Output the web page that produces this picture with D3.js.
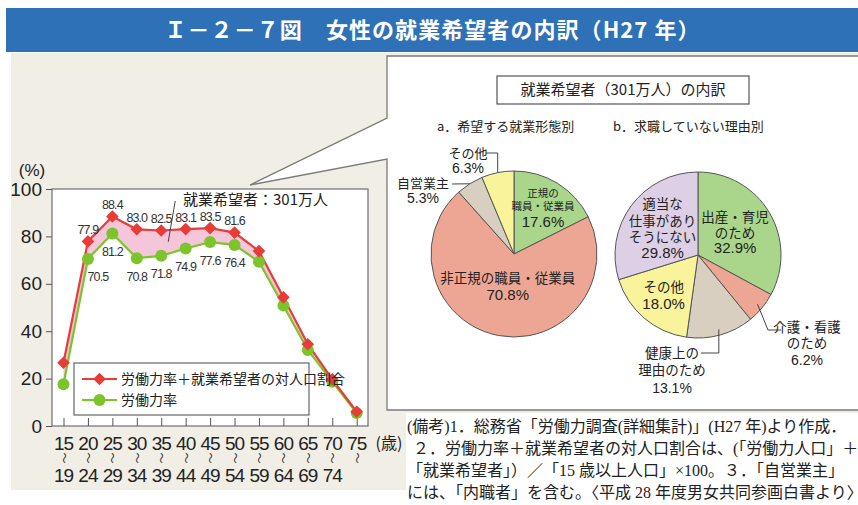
<!DOCTYPE html>
<html>
<head>
<meta charset="utf-8">
<script src="https://cdn.jsdelivr.net/npm/d3@7"></script>
<style>
  body { margin: 0; background: #fff; }
  svg { display: block; font-family: "Liberation Sans", "Noto Sans CJK JP", sans-serif; }
  .jp { font-family: "Noto Sans CJK JP", sans-serif; }
  .note { font-family: "Liberation Serif", "Noto Sans CJK JP", serif; }
</style>
</head>
<body>
<svg id="chart" width="858" height="505"></svg>
<script>
// age groups (start / end of each band)
const ageFrom = ["15", "20", "25", "30", "35", "40", "45", "50", "55", "60", "65", "70", "75"];
const ageTo = ["19", "24", "29", "34", "39", "44", "49", "54", "59", "64", "69", "74", ""];

// 労働力率＋就業希望者の対人口割合 (%)
const ratePlusSeekers = [26.7, 77.9, 88.4, 83.0, 82.5, 83.1, 83.5, 81.6, 73.8, 54.3, 34.5, 19.7, 6.0];
// 労働力率 (%)
const laborRate = [17.6, 70.5, 81.2, 70.8, 71.8, 74.9, 77.6, 76.4, 69.3, 50.8, 32.1, 18.7, 5.5];
// bands that carry a value label
const labelledAges = ["20", "25", "30", "35", "40", "45", "50"];

const yTicks = [0, 20, 40, 60, 80, 100];

// a. 希望する就業形態別
const formNames = ["正規の職員・従業員", "非正規の職員・従業員", "自営業主", "その他"];
const formShares = [17.6, 70.8, 5.3, 6.3];

// b. 求職していない理由別
const reasonNames = ["出産・育児のため", "介護・看護のため", "健康上の理由のため", "その他", "適当な仕事がありそうにない"];
const reasonShares = [32.9, 6.2, 13.1, 18.0, 29.8];

const notes = [
  "(備考)1．総務省「労働力調査(詳細集計)」(H27 年)より作成．",
  "２．労働力率＋就業希望者の対人口割合は、(「労働力人口」＋",
  "「就業希望者」）／「15 歳以上人口」×100。３．「自営業主」",
  "には、「内職者」を含む。〈平成 28 年度男女共同参画白書より〉"
];

const svg = d3.select("#chart");

// ---- frame ----
svg.append("rect").attr("x", 6).attr("y", 8).attr("width", 852).attr("height", 44)
  .attr("fill", "#2e71b6");
svg.append("text").attr("class", "jp")
  .attr("x", 432).attr("y", 30).attr("dy", "0.36em")
  .attr("text-anchor", "middle").attr("fill", "#fff")
  .attr("font-size", 22).attr("font-weight", "bold")
  .attr("textLength", 535).attr("lengthAdjust", "spacing")
  .text("Ｉ－２－７図　女性の就業希望者の内訳（H27 年）");

svg.append("rect").attr("x", 11).attr("y", 53).attr("width", 847).attr("height", 437)
  .attr("fill", "#f1eee6");

// ---- line chart ----
const x = d3.scalePoint().domain(ageFrom).range([63.5, 356.7]);
const y = d3.scaleLinear().domain([0, 100]).range([426, 189]);
const plot = { left: 52, right: 368, top: 189, bottom: 426 };

svg.append("rect")
  .attr("x", plot.left).attr("y", plot.top)
  .attr("width", plot.right - plot.left).attr("height", plot.bottom - plot.top)
  .attr("fill", "#fff").attr("stroke", "#6f6f6f").attr("stroke-width", 1.2);

const yAxis = svg.append("g")
  .attr("transform", `translate(${plot.left},0)`)
  .call(d3.axisLeft(y).tickValues(yTicks).tickSize(6).tickPadding(4));
yAxis.select(".domain").remove();
yAxis.selectAll("line").attr("stroke", "#555");
yAxis.selectAll("text").attr("font-size", 19).attr("fill", "#222")
  .attr("font-family", "Liberation Sans, sans-serif");

const xAxis = svg.append("g")
  .attr("transform", `translate(0,${plot.bottom})`)
  .call(d3.axisBottom(x).tickSize(-8).tickFormat(""));
xAxis.select(".domain").remove();
xAxis.selectAll("line").attr("stroke", "#555");

const xLab = svg.append("g").attr("font-size", 19).attr("fill", "#222")
  .attr("text-anchor", "middle");
ageFrom.forEach(function(a, i) {
  xLab.append("text").attr("x", x(a)).attr("y", 443).attr("dy", "0.36em")
    .attr("letter-spacing", -1).text(a);
  xLab.append("text")
    .attr("transform", `translate(${x(a)},458) rotate(90)`)
    .attr("dy", "0.36em").attr("font-size", 11).attr("class", "jp")
    .text("～");
  if (ageTo[i]) {
    xLab.append("text").attr("x", x(a)).attr("y", 475).attr("dy", "0.36em")
      .attr("letter-spacing", -1).text(ageTo[i]);
  }
});
svg.append("text").attr("class", "jp").attr("x", 389).attr("y", 443).attr("dy", "0.36em")
  .attr("text-anchor", "middle").attr("font-size", 16).attr("fill", "#222").text("(歳)");
svg.append("text").attr("x", 32).attr("y", 170).attr("dy", "0.36em")
  .attr("text-anchor", "middle").attr("font-size", 17).attr("fill", "#222").text("(%)");

const rows = ageFrom.map(function(a, i) {
  return { age: a, hi: ratePlusSeekers[i], lo: laborRate[i] };
});

svg.append("path").datum(rows)
  .attr("fill", "#f5c5da")
  .attr("d", d3.area()
    .x(function(d) { return x(d.age); })
    .y0(function(d) { return y(d.lo); })
    .y1(function(d) { return y(d.hi); }));

const green = "#7cc42c", red = "#e83c38";

svg.append("path").datum(rows)
  .attr("fill", "none").attr("stroke", green).attr("stroke-width", 2.2)
  .attr("d", d3.line().x(function(d) { return x(d.age); }).y(function(d) { return y(d.lo); }));
svg.append("path").datum(rows)
  .attr("fill", "none").attr("stroke", red).attr("stroke-width", 2.2)
  .attr("d", d3.line().x(function(d) { return x(d.age); }).y(function(d) { return y(d.hi); }));

svg.append("g").selectAll("circle").data(rows).enter().append("circle")
  .attr("cx", function(d) { return x(d.age); })
  .attr("cy", function(d) { return y(d.lo); })
  .attr("r", 6).attr("fill", green);

const diamond = d3.symbol().type(d3.symbolSquare).size(80);
svg.append("g").selectAll("path").data(rows).enter().append("path")
  .attr("d", diamond)
  .attr("transform", function(d) { return `translate(${x(d.age)},${y(d.hi)}) rotate(45)`; })
  .attr("fill", red);

// value labels, narrow so neighbours don't run together
const valLab = svg.append("g").attr("font-size", 12.5).attr("fill", "#333")
  .attr("text-anchor", "middle").attr("letter-spacing", -0.9);
rows.filter(function(d) { return labelledAges.includes(d.age); }).forEach(function(d, i) {
  valLab.append("text").attr("x", x(d.age)).attr("y", y(d.hi) - 12).attr("dy", "0.36em")
    .text(d.hi.toFixed(1));
  valLab.append("text").attr("x", x(d.age) + (i === 0 ? 10 : 0)).attr("y", y(d.lo) + 18)
    .attr("dy", "0.36em").text(d.lo.toFixed(1));
});

// annotation for the shaded band
const annX = x("35") + 7;
const annY = (y(82.7) + y(72.7)) / 2;
svg.append("line").attr("x1", annX).attr("y1", annY).attr("x2", annX + 7).attr("y2", 201)
  .attr("stroke", "#444").attr("stroke-width", 1);
svg.append("text").attr("class", "jp").attr("x", 183).attr("y", 200).attr("dy", "0.36em")
  .attr("font-size", 15).attr("fill", "#222").text("就業希望者：301万人");

// legend
const leg = svg.append("g");
leg.append("rect").attr("x", 74).attr("y", 363).attr("width", 235).attr("height", 52)
  .attr("fill", "#fff").attr("stroke", "#666").attr("stroke-width", 1.2);
[[red, "労働力率＋就業希望者の対人口割合", 379, "d"], [green, "労働力率", 400, "c"]].forEach(function(e) {
  leg.append("line").attr("x1", 82).attr("x2", 117).attr("y1", e[2]).attr("y2", e[2])
    .attr("stroke", e[0]).attr("stroke-width", 2.2);
  if (e[3] === "d") {
    leg.append("path").attr("d", diamond)
      .attr("transform", `translate(99.5,${e[2]}) rotate(45)`).attr("fill", e[0]);
  } else {
    leg.append("circle").attr("cx", 99.5).attr("cy", e[2]).attr("r", 6).attr("fill", e[0]);
  }
  leg.append("text").attr("class", "jp").attr("x", 121).attr("y", e[2]).attr("dy", "0.36em")
    .attr("font-size", 14).attr("fill", "#222").text(e[1]);
});

// ---- pie panel with callout ----
svg.append("path")
  .attr("d", "M870,56 L387,56 L387,118 L250,185 L387,159 L387,410 L870,410")
  .attr("fill", "#fff").attr("stroke", "#7a7a7a").attr("stroke-width", 1.3);

svg.append("rect").attr("x", 406).attr("y", 413).attr("width", 452).attr("height", 92)
  .attr("fill", "#fff");

svg.append("rect").attr("x", 497).attr("y", 76).attr("width", 252).attr("height", 28)
  .attr("fill", "#fff").attr("stroke", "#555").attr("stroke-width", 1.2);
svg.append("text").attr("class", "jp").attr("x", 623).attr("y", 90).attr("dy", "0.36em")
  .attr("text-anchor", "middle").attr("font-size", 15).attr("fill", "#222")
  .text("就業希望者（301万人）の内訳");
svg.append("text").attr("class", "jp").attr("x", 437).attr("y", 126).attr("dy", "0.36em")
  .attr("font-size", 13).attr("fill", "#222").text("a．希望する就業形態別");
svg.append("text").attr("class", "jp").attr("x", 613).attr("y", 126).attr("dy", "0.36em")
  .attr("font-size", 13).attr("fill", "#222").text("b．求職していない理由別");

const R = 83;
const arc = d3.arc().innerRadius(0).outerRadius(R);
const pie = d3.pie().sort(null).value(function(d) { return d.v; });

function midAngle(d) { return (d.startAngle + d.endAngle) / 2; }
function polar(a, r) { return [Math.sin(a) * r, -Math.cos(a) * r]; }

function drawPie(cx, cy, names, shares, colors, layout) {
  const g = svg.append("g").attr("transform", `translate(${cx},${cy})`);
  const arcs = pie(names.map(function(n, i) { return { n: n, v: shares[i] }; }));
  g.selectAll("path").data(arcs).enter().append("path")
    .attr("d", arc)
    .attr("fill", function(d, i) { return colors[i]; })
    .attr("stroke", "#555").attr("stroke-width", 1);

  arcs.forEach(function(d, i) {
    const L = layout[i];
    const a = midAngle(d);
    let c;
    if (L.k) {
      c = polar(a, R * L.k);
    } else {
      c = L.at;
      const p = polar(a, R * L.edge);
      const pts = [p].concat(L.leader(p));
      g.append("path").attr("d", d3.line()(pts))
        .attr("fill", "none").attr("stroke", "#444").attr("stroke-width", 1);
    }
    const t = g.append("text").attr("class", "jp").attr("text-anchor", "middle").attr("fill", "#222");
    L.lines.forEach(function(ln) {
      t.append("tspan").attr("x", c[0]).attr("y", c[1] + ln[2]).attr("dy", "0.36em")
        .attr("font-size", ln[1]).text(ln[0]);
    });
    t.append("tspan").attr("x", c[0]).attr("y", c[1] + L.pctY).attr("dy", "0.36em")
      .attr("font-size", L.pctSize).attr("font-family", "Liberation Sans, sans-serif")
      .text(d.data.v.toFixed(1) + "%");
  });
}

const cGreen = "#a9d68a", cSalmon = "#eea694", cBeige = "#d9cfc0", cYellow = "#f9f39b", cLav = "#ddd0e6";

drawPie(514, 254, formNames, formShares, [cGreen, cSalmon, cBeige, cYellow], [
  { k: 0.665, lines: [["正規の", 10.5, -14], ["職員・従業員", 10.5, -1]], pctY: 15, pctSize: 15 },
  { k: 0.4, lines: [["非正規の職員・従業員", 13.5, -8]], pctY: 8, pctSize: 15 },
  { at: [-91, -64], edge: 1, leader: function(p) { return [[-62, -70]]; },
    lines: [["自営業主", 13, -7]], pctY: 8, pctSize: 14 },
  { at: [-46, -94], edge: 1, leader: function(p) { return [[p[0], -101], [-28, -101]]; },
    lines: [["その他", 13, -7]], pctY: 8, pctSize: 14 }
]);

drawPie(698, 255, reasonNames, reasonShares, [cGreen, cSalmon, cBeige, cYellow, cLav], [
  { k: 0.52, lines: [["出産・育児", 13.5, -16], ["のため", 13.5, 0]], pctY: 15, pctSize: 15 },
  { at: [109, 88], edge: 0.93, leader: function(p) { return [[70, 75], [83, 75]]; },
    lines: [["介護・看護", 13.5, -16], ["のため", 13.5, 0]], pctY: 17, pctSize: 14 },
  { at: [-26, 115], edge: 0.93, leader: function(p) { return [[p[0], 98], [3, 98]]; },
    lines: [["健康上の", 13.5, -17], ["理由のため", 13.5, 0]], pctY: 18, pctSize: 14 },
  { k: 0.64, lines: [["その他", 13.5, -8]], pctY: 8, pctSize: 15 },
  { k: 0.53, lines: [["適当な", 13.5, -25], ["仕事があり", 13.5, -8], ["そうにない", 13.5, 8]], pctY: 24, pctSize: 15 }
]);

// ---- notes ----
const noteG = svg.append("g").attr("class", "note").attr("font-size", 16).attr("fill", "#222");
notes.forEach(function(n, i) {
  noteG.append("text").attr("x", i === 1 ? 413 : 407).attr("y", 426 + i * 22)
    .attr("dy", "0.36em").text(n);
});
</script>
</body>
</html>
